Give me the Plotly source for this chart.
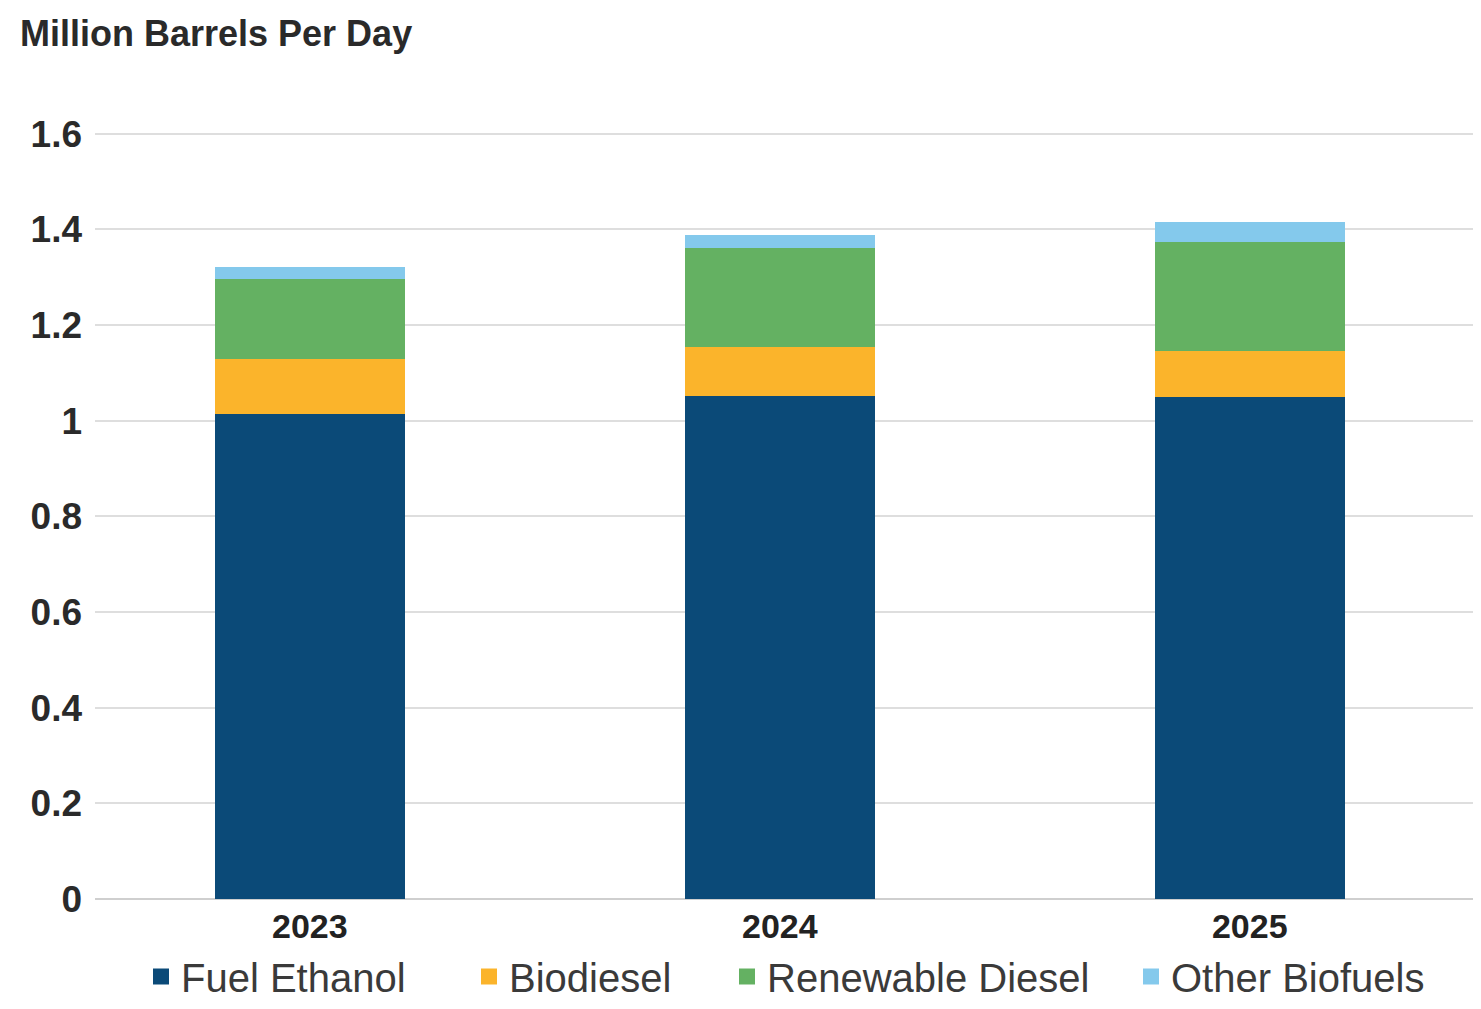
import plotly.graph_objects as go

years = ["2023", "2024", "2025"]
fuel_ethanol = [1.015, 1.052, 1.050]
biodiesel = [0.114, 0.102, 0.096]
renewable_diesel = [0.167, 0.208, 0.227]
other_biofuels = [0.025, 0.027, 0.042]

series_names = ["Fuel Ethanol", "Biodiesel", "Renewable Diesel", "Other Biofuels"]
series_values = [fuel_ethanol, biodiesel, renewable_diesel, other_biofuels]
series_colors = ["#0b4a78", "#fbb42b", "#64b162", "#84c9ec"]

y_tickvals = [0, 0.2, 0.4, 0.6, 0.8, 1, 1.2, 1.4, 1.6]
y_ticktext = ["0", "0.2", "0.4", "0.6", "0.8", "1", "1.2", "1.4", "1.6"]

# page body has an 8px margin, so the figure is offset by 8px
W, H = 1473, 1001
L = 87
top_px, zero_px = 126, 894   # y=1.6 and y=0 in figure coordinates
ymax = 1.612
plot_h = (zero_px - top_px) * ymax / 1.6
t_margin = int(round(zero_px - plot_h))
plot_w = W - L

legend_ids = ["legend", "legend2", "legend3", "legend4"]
legend_text_px = [186, 514, 772, 1176]  # where each legend label starts on the page

fig = go.Figure()
for name, vals, col, lid in zip(series_names, series_values, series_colors, legend_ids):
    fig.add_trace(go.Bar(x=years, y=vals, name=name, legendgroup=name, showlegend=False,
                         marker=dict(color=col, line=dict(width=0))))
    fig.add_trace(go.Scatter(x=[None], y=[None], name=name, legendgroup=name, mode="markers",
                             marker=dict(symbol="square", size=30, color=col), legend=lid))

legend_font = dict(size=40, color="#3a3a3a", family="Liberation Sans, Arial, sans-serif")
leg_y = -(972 - 894) / (zero_px - t_margin)
legend_layout = {}
for lid, tx in zip(legend_ids, legend_text_px):
    legend_layout[lid] = dict(orientation="h", x=(tx - 8 - L - 45) / plot_w, xanchor="left",
                              y=leg_y, yanchor="middle", font=legend_font, itemwidth=30,
                              bgcolor="rgba(0,0,0,0)", itemsizing="trace")

fig.update_layout(
    width=W, height=H,
    barmode="stack", bargap=0.595,
    paper_bgcolor="white", plot_bgcolor="white",
    margin=dict(l=L, r=0, t=t_margin, b=H - zero_px),
    font=dict(family="Liberation Sans, Arial, sans-serif", color="#333333"),
    title=dict(text="<b>Million Barrels Per Day</b>", x=12/W, xref="container", xanchor="left",
               y=1 - 25/H, yref="container", yanchor="middle",
               font=dict(size=36, color="#2a2a2a", family="Liberation Sans, Arial, sans-serif")),
    showlegend=True,
    xaxis=dict(type="category", range=[-0.457, 2.492], showgrid=False, showline=False, ticks="",
               tickfont=dict(size=34, color="#222222", family="Liberation Sans, Arial, sans-serif"),
               tickprefix="<b>", ticksuffix="</b>", ticklabelstandoff=4),
    yaxis=dict(range=[0, ymax], tickvals=y_tickvals, ticktext=["<b>%s</b>" % t for t in y_ticktext],
               showgrid=True, gridcolor="#dedede", gridwidth=2, zeroline=True, zerolinecolor="#cfcfcf",
               zerolinewidth=2, showline=False, ticks="", ticklabelstandoff=12,
               tickfont=dict(size=37, color="#2a2a2a", family="Liberation Sans, Arial, sans-serif")),
    **legend_layout,
)

fig.write_html("out.html")
